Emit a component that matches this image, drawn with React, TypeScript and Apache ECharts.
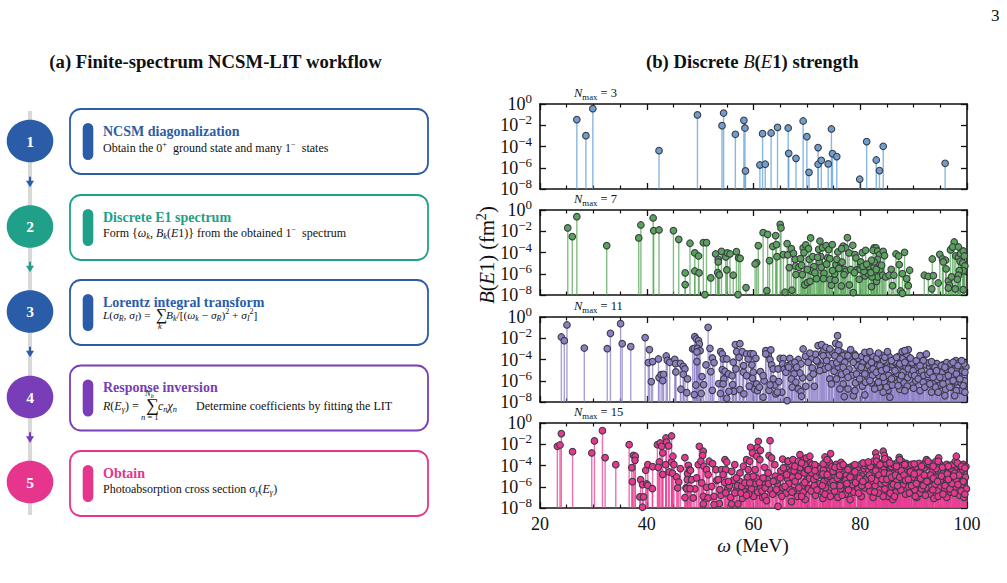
import React, { useEffect, useRef } from "react";
import * as echarts from "echarts";

// Each point is [omega in MeV, log10 of B(E1) in fm^2].
// The dense regions cannot be resolved point by point, so those lists are approximate.
const nmax3 = [
  [26.9,-1.47],[28.6,-2.98],[29.9,-0.44],[42.3,-4.39],[49.5,-1.03],[54.1,-2.04],[54.4,-0.85],[56.6,-2.85],
  [58.2,-1.54],[58.4,-2.26],[58.5,-6.3],[61.2,-5.74],[62.2,-5.67],[61.7,-2.79],[63.3,-2.73],[64.5,-2.2],
  [66.5,-2.26],[66.6,-4.64],[67.96,-5.11],[69.3,-1.6],[70,-3.07],[70.4,-6.43],[72.1,-4.1],[72.1,-5.67],
  [72.7,-5.3],[74,-5.64],[74.6,-2.35],[74.8,-4.67],[75.6,-4.95],[79.9,-7.08],[81.2,-3.54],[83,-5.27],
  [83.6,-6.27],[84.3,-3.98],[95.9,-5.58],
];
const nmax7 = [
  [25.2,-1.69],[26.05,-2.5],[26.9,-0.63],[32.5,-3.35],[38.5,-2.63],[38.9,-1.41],[41.2,-0.75],[41.3,-1.94],
  [42.3,-1.88],[45,-1.94],[46,-2.76],[48.1,-3.13],[47.2,-5.92],[47.2,-7.02],[49,-4.04],[49,-5.74],[49.7,-4.33],
  [49.8,-5.92],[50.6,-3.07],[51.2,-3.07],[50.9,-7.96],[52,-6.39],[52.9,-4.14],[53.4,-4.64],[53.4,-4.89],
  [53.3,-5.89],[54,-3.89],[54.8,-4.42],[55.1,-4.04],[53.6,-6.11],[55,-5.64],[55.6,-4.14],[56.2,-6.14],
  [56.8,-3.92],[57.2,-4.51],[57.1,-7.96],[57.5,-4.55],[58.6,-7.3],[60.9,-3.35],[61.8,-2.13],[62.65,-2.29],
  [60.6,-4.95],[60.3,-5.08],[63,-4.76],[62.5,-7.59],[63.6,-3.42],[64.3,-3.26],[64.15,-2.41],[65,-1.35],
  [65.15,-1.69],[64.4,-4.39],[65.6,-4.2],[66.4,-4.23],[66.3,-3.17],[67.1,-3.64],[67.5,-4.08],[65.9,-7.74],
  [67.2,-7.55],[66.7,-5.42],[67.8,-4.64],[68.8,-4.58],[67.9,-5.27],[68.5,-5.39],[67.95,-6.08],[69.15,-6.08],
  [69.3,-3.57],[69.8,-3.29],[70.3,-3.64],[69.45,-4.01],[70.7,-2.63],[70.45,-4.64],[71.1,-4.39],[71.3,-5.33],
  [70.8,-5.74],[69.6,-7.05],[70.1,-6.83],[70.6,-6.71],[71.8,-6.46],[72.3,-4.89],[72.45,-2.92],[72.2,-3.7],
  [72.95,-3.54],[73.6,-3.35],[74.1,-3.73],[74.76,-3.26],[72.6,-4.39],[72,-4.45],[73.2,-5.96],[73.1,-6.46],
  [73.9,-4.51],[74.3,-4.58],[74.6,-7.08],[74.3,-6.52],[75.3,-6.61],[75.2,-6.02],[75.45,-5.14],[76.3,-4.95],
  [75.6,-4.64],[75.8,-3.95],[76.8,-3.39],[77.25,-3.57],[76.5,-3.64],[77.6,-2.6],[78.6,-3.32],[77.9,-4.04],
  [79,-4.2],[79.2,-4.51],[77,-5.58],[77.3,-5.77],[76.95,-6.08],[76.45,-7.15],[77.95,-7.05],[78.7,-7.77],
  [79.8,-6.52],[79.3,-5.64],[79.95,-5.58],[80.1,-5.14],[80.4,-4.01],[81,-3.79],[80.1,-4.89],[80.9,-6.2],
  [81.5,-6.02],[82.1,-7.21],[80.7,-5.77],[81.6,-5.33],[82.6,-5.33],[82.6,-3.57],[82.95,-3.57],[82.4,-3.79],
  [83.25,-3.86],[83.6,-4.2],[83.25,-4.64],[82.6,-4.89],[82.1,-4.73],[83.7,-5.64],[83.05,-6.71],[83.25,-6.3],
  [82.2,-6.3],[84.3,-3.89],[84.55,-4.29],[84.2,-6.14],[84.8,-6.3],[85.8,-5.58],[85.4,-6.14],[86.3,-6.14],
  [86.7,-4.14],[87.2,-4.33],[88.3,-3.98],[87.3,-5.14],[87.9,-5.99],[88.7,-6.46],[89.25,-5.67],[86.05,-7.12],
  [89,-7.12],[87.55,-7.62],[87.9,-7.84],[92,-6.14],[92.75,-6.24],[93.7,-6.18],[93.5,-4.61],[93.4,-7.43],
  [94.6,-6.87],[94.9,-4.17],[95.4,-4.61],[96,-4.73],[95.55,-4.89],[96.1,-5.55],[96.5,-6.68],[96.7,-7.08],
  [97.1,-6.3],[96.5,-7.34],[97.8,-7.43],[96.9,-3.76],[97.6,-3.01],[97.3,-3.48],[98.4,-3.48],[97.9,-4.33],
  [98.4,-4.45],[98.8,-4.11],[99.3,-3.86],[99.5,-4.33],[98.7,-4.83],[99.2,-4.98],[99.6,-5.27],[99.3,-5.7],
  [98.55,-5.7],[98.4,-6.14],[98.2,-6.52],[99.3,-7.49],
  [71.5,-5.9],[72.7,-5.4],[73.7,-5.1],[74.8,-5.7],[76,-5.5],[76.6,-4.9],[78.2,-5.6],[78.9,-5.9],[80.5,-5.3],[81.2,-5.1],
  [82,-5.9],[83,-5.6],[84,-5.2],[69,-5.2],[70.1,-5.6],
];
const nmax11 = [
  [24,-1.88],[24.55,-2.23],[25.05,-0.75],[28.3,-2.92],[32.6,-2.98],[33.2,-1.54],[35.1,-0.63],[35.4,-2.51],
  [37,-2.79],[39.7,-1.94],[40.5,-3.07],[40.3,-4.29],[41.1,-4.2],[40.85,-6.08],[42.2,-3.95],[42.3,-5.7],
  [42.7,-5.42],[43.15,-5.39],[43,-5.99],[43.65,-3.67],[43.85,-4.08],[44.3,-4.26],[45.25,-3.98],[45.4,-4.39],
  [45.45,-5.17],[46.3,-4.36],[46.85,-4.64],[47.15,-4.89],[46.85,-5.39],[47.65,-5.83],[47.5,-7.12],
  [48.6,-3.01],[49,-1.85],[49.3,-2.07],[49.7,-2.23],[49.85,-2.54],[48.9,-2.95],[49.5,-2.95],[50,-3.17],
  [49.4,-3.29],[49.4,-4.2],[50.35,-5.61],[50.65,-6.36],[51.1,-4.51],[51.5,-0.97],[51.84,-2.95],[52,-5.14],
  [52.3,-3.86],[52.6,-4.29],[53.5,-6.27],[53.85,-3.26],[54.15,-3.48],[54.35,-3.95],[55,-3.95],[54.15,-4.95],
  [54.65,-5.11],[54.45,-5.83],[54.3,-6.3],[55.3,-5.36],[55.4,-6.99],[55,-7.65],[56.1,-6.36],[56.2,-4.26],
  [56,-5.52],[56.7,-4.89],[56.6,-2.6],[57.45,-2.51],[56.85,-3.26],[57.3,-3.79],[57.9,-3.26],[57.45,-6.83],
  [58.2,-7.24],[58.15,-4.58],[58.1,-5.2],[58.7,-3.48],[59,-3.95],[58.7,-5.52],[59.45,-3.45],[59.95,-3.48],
  [60.45,-3.89],[59.7,-4.51],[59.95,-5.2],[59.8,-5.77],[60.6,-6.3],[60.75,-6.93],[61.8,-7.55],[61.1,-6.61],
  [61.3,-5.14],[61.8,-5.52],[62.3,-3.17],[62.75,-3.57],[63.25,-3.1],[62.3,-3.48],[63.1,-4.01],[63.4,-4.51],
  [63.7,-4.89],[63.1,-6.39],[64.2,-7.24],[63.7,-5.83],[64.6,-4.89],[65,-3.89],[65.6,-3.89],[65.45,-4.42],
  [65.75,-4.89],[64.75,-6.08],[65.3,-7.08],[64.45,-7.08],[66.3,-7.87],[66.4,-4.58],[66.07,-5.2],
  [69.3,-3.01],[69.75,-3.7],[70.56,-3.39],[70.25,-4.26],[67.1,-4.42],[67.75,-4.26],[66.6,-4.73],[68.1,-4.73],
  [68.7,-5.27],[67.6,-5.36],[67.1,-5.83],[67.94,-6.14],[67.25,-6.61],[68.4,-6.77],[68.9,-7.02],[69,-7.46],
  [69.8,-6.52],[71.4,-6.52],[70.56,-5.67],[71.2,-5.36],[71.8,-4.11],[72.1,-2.7],[72.75,-2.6],[73.56,-2.85],
  [74.3,-3.01],[72.4,-5.05],[73.05,-3.64],[73.7,-4.11],[74,-4.73],[74.3,-5.83],[75.56,-5.83],[74.6,-6.3],
  [75.4,-2.48],[75.75,-1.76],[76,-2.63],[75.87,-3.17],[75.25,-3.64],[76.8,-3.64],[76.2,-3.95],[77.1,-4.26],
  [77.7,-3.64],[78.2,-3.07],[79.1,-3.64],[78.7,-4.26],[76.8,-4.73],[77.4,-5.2],[77.7,-5.67],[76.8,-6.3],
  [76.2,-6.77],[77.7,-6.77],[77,-7.49],[78.7,-7.4],[79.3,-5.36],[79.9,-5.83],[79,-6.93],[80.86,-3.32],
  [81.8,-3.26],[81.2,-3.95],[82.1,-4.26],[80.2,-4.73],[80.86,-5.36],[81,-6.14],[80.86,-7.33],[82.4,-4.89],
  [81.8,-5.99],[82.7,-6.77],[83.4,-3.39],[84.6,-3.79],[85.1,-3.26],[83.7,-4.58],[83,-5.2],[84,-5.05],
  [84.9,-4.89],[84.3,-5.67],[83.4,-6.14],[84.9,-6.61],[84.3,-7.08],[85.55,-7.55],[85.85,-4.11],[86.8,-3.79],
  [87.85,-3.26],[89,-3.07],[88.35,-3.17],[89.4,-3.86],[87.4,-4.42],[88.35,-4.26],[86.5,-5.05],[87.75,-5.52],
  [89,-4.89],[85.85,-5.83],[87.1,-6.46],[88.35,-6.93],[89.9,-5.05],[90.5,-4.11],[91.2,-3.64],[92.4,-3.48],
  [91.8,-4.11],[91.2,-4.58],[90.2,-5.52],[90.85,-5.83],[91.8,-6.14],[91.2,-6.93],[92.1,-6.61],[93.35,-4.2],
  [94,-4.73],[93.05,-5.2],[93.65,-5.67],[93.05,-6.3],[93.35,-7.08],[95.2,-4.58],[94.3,-5.05],[94.9,-5.67],
  [95.85,-4.73],[95.5,-6.3],[94.6,-7.08],[95.85,-7.4],[97.4,-4.26],[98.3,-4.58],[99,-4.11],[97.1,-5.05],
  [98,-5.36],[96.5,-5.52],[97.4,-5.99],[98.65,-5.83],[99.6,-5.2],[96.8,-6.61],[98,-6.93],[99.3,-6.46],
  [99.6,-7.08],[97.7,-7.4],
];
const nmax11Dense = [
  [72.6,-4.6],[73.3,-4.9],[74.7,-4.4],[75.1,-5.1],[75.9,-4.7],[76.5,-5.4],[77.9,-4.9],[78.4,-5.5],[79.5,-4.6],
  [79.9,-5],[80.5,-4.2],[80.9,-4.8],[81.4,-5.6],[81.6,-4.6],[82,-5],[82.3,-5.5],[82.8,-4.1],[83.2,-4.6],[83.5,-5.5],
  [83.9,-4.2],[84.2,-4.8],[84.5,-6.1],[84.7,-5.2],[85,-4.3],[85.3,-5.5],[85.5,-4.7],[85.7,-6.3],[86.1,-4.5],
  [86.3,-5.7],[86.6,-4.3],[86.9,-5.3],[87.1,-4.9],[87.5,-5.9],[87.8,-4.6],[88,-5.2],[88.2,-6.2],[88.6,-4.7],
  [88.9,-5.7],[89.2,-4.5],[89.6,-5.4],[89.8,-6.4],[90.1,-4.7],[90.4,-6],[90.7,-4.8],[91,-5.3],[91.5,-5.1],
  [91.9,-5.5],[92.3,-4.5],[92.7,-5.4],[93,-4.7],[93.5,-5.1],[93.8,-6.1],[94.2,-4.4],[94.5,-5.9],[94.8,-4.8],
  [95,-6.4],[95.4,-5.2],[95.7,-5.7],[96.1,-4.9],[96.4,-6.2],[96.9,-4.6],[97.2,-5.6],[97.6,-4.8],[97.9,-6.1],
  [98.1,-4.9],[98.5,-5.4],[98.9,-6.2],[99.2,-5.1],[99.5,-6],[99.8,-4.7],[60.2,-6.8],[62,-6],[62.9,-6.9],[64,-6.4],
  [66.8,-3.9],[67.3,-4.9],[68.4,-4.0],[68.9,-4.4],[69.2,-5.7],[70.9,-3.9],[71,-4.8],[71.6,-3.5],[72,-4.2],[72.9,-3.4],
  [73.2,-3.1],[74.1,-3.6],[74.8,-3.3],[75.6,-4.3],[76.4,-3.3],[76.9,-4.1],[77.3,-3.5],[78,-3.9],[78.9,-3.5],[79.6,-3.9],
  [80.3,-3.7],[81.1,-3.5],[82.4,-3.7],[83.1,-3.9],[84,-3.6],[84.4,-4.1],[85.4,-3.7],[86.4,-4.2],[87.2,-3.7],[88,-3.9],
  [88.7,-3.5],[89.7,-4.3],[90.9,-4.3],[91.6,-3.7],[92.9,-4.3],[93.6,-4.5],[94.4,-4.4],[95.5,-4.5],[96.2,-4.3],[97,-4.4],
  [97.9,-4.1],[98.6,-4.3],[99.4,-4.4],[79.1,-6.2],[80.4,-6.5],[82.1,-6.2],[83.6,-6.6],[85.2,-6.9],[86,-6.4],[87.4,-6.8],
  [88.8,-6.5],[90,-6.7],[92.6,-6.2],[94.1,-6.6],[96,-6.8],[97.1,-6.6],[98.9,-6.9],[59.2,-6.5],
  [56.3,-7],[53.8,-7.2],[52.3,-6.9],[50.2,-7.2],[49.2,-6.4],[48.9,-7.3],[46.4,-6.8],
];
const nmax15 = [
  [23.25,-2.19],[23.75,-2.07],[24,-1],[26.1,-2.7],[29.7,-2.82],[30.2,-1.69],[31.7,-0.72],[32.2,-3.26],[34.2,-3.92],
  [36.7,-2.04],[37.5,-3.04],[37.85,-3.13],[37.8,-3.51],[37.2,-4.2],[37.3,-5.52],[38.85,-5.33],[39.2,-5.8],[38.7,-6.96],
  [39.4,-6.96],[39.2,-7.93],[39.8,-4.45],[40.2,-3.92],[40,-5.74],[40.2,-5.86],[41.1,-4.11],[41.05,-6.18],[42,-2.04],
  [42.35,-3.67],[42.5,-1.88],[42.8,-2.19],[42.15,-4.17],[43,-2.82],[43,-4.83],[43.6,-1.41],[43.7,-1.79],[43.55,-3.92],
  [44.1,-2.16],[44.2,-4.61],[44.65,-1.22],[44.65,-3.67],[44.9,-3.13],[45.1,-3.92],[44.85,-4.73],[45.6,-5.08],[46,-5.55],
  [45.8,-6.11],[46.3,-4.29],[47.15,-3.26],[47.8,-3.98],[47.65,-4.76],[47.35,-6.11],[47.15,-7.02],[47.6,-5.33],[48,-4.39],
  [48.2,-4.45],[48.4,-5.33],[49,-6.2],[48.7,-7.05],[47.5,-6.18],[48.1,-6.18],[49.35,-5.17],[49.65,-3.92],[49.85,-2.19],
  [50.6,-2.66],[50.47,-3.04],[50.15,-3.6],[50.7,-4.07],[51.2,-4.39],[51.7,-3.6],[52.34,-3.82],[52.96,-4.39],[51.5,-4.86],
  [50.3,-5.64],[51.2,-6.05],[52.15,-5.96],[50.6,-6.9],[51.5,-7.05],[52.6,-6.9],[50.6,-7.62],[53.6,-7.59],[52.6,-7.68],
  [54.65,-3.45],[55,-3.67],[54,-4.39],[54.8,-4.39],[53.4,-5.33],[54.3,-4.86],[55.3,-5.49],[56.5,-3.92],[55.9,-4.55],
  [53.7,-6.27],[54.8,-6.58],[56.5,-6.58],[55.9,-7.62],[57.1,-7.62],[57.45,-4.7],[56.8,-5.17],[57.8,-5.96],[58.7,-6.8],
  [58.1,-4.07],[58.7,-3.45],[59.45,-2.29],[59.8,-2.82],[60.7,-2.29],[60.9,-1.72],[61.3,-2.57],[60.6,-3.13],[59.3,-3.6],
  [60.3,-4.39],[59,-4.39],[59.95,-5.02],[58.4,-5.64],[59.3,-5.64],[61.8,-5.17],[61.2,-3.45],[62.1,-4.17],[62.1,-6.9],
  [62.45,-7.3],[63.1,-1.66],[62.9,-3.07],[63.4,-3.29],[64,-3.92],[62.76,-4.7],[63.7,-5.49],[64.3,-6.27],[65.3,-6.9],
  [64.6,-7.84],[65.45,-3.39],[66.4,-3.6],[65.6,-4.23],[66.2,-4.86],[65,-5.17],[65.9,-5.96],
  [66.5,-3.6],[67.4,-3.45],[68.7,-2.98],[68.4,-3.6],[69.9,-3.29],[70.56,-3.13],[69.6,-3.92],[69,-3.76],[67.75,-4.07],
  [70.25,-4.39],[71.5,-3.92],[71.5,-4.48],[73.06,-3.85],[73.4,-3.2],[73.8,-3.45],[74.45,-2.88],[73.8,-4.86],[74.9,-4.55],
  [75.25,-4.17],[76.2,-4.07],[76.8,-3.92],[77.7,-4.39],[79,-3.92],[80.55,-3.76],[81.5,-3.67],[82.9,-2.82],[83.05,-3.23],
  [83.05,-3.6],[84.3,-2.66],[84.5,-3.04],[84.6,-3.35],[83.7,-3.92],[85.55,-3.76],[87.3,-3.23],[87.4,-3.45],[86.8,-4.07],
  [88.35,-3.92],[90.1,-3.85],[92.4,-3.45],[92.7,-3.6],[91.5,-4.07],[94.7,-3.29],[94.6,-3.6],[93.65,-4.07],[95.4,-4.17],
  [96.5,-4.07],[98,-3.13],[98.2,-3.76],[99,-4.07],[99.6,-4.23],
];
const nmax15Dense = [
  [53.1,-5.4],[53.9,-6.8],[54.6,-5.6],[55.2,-6.2],[55.7,-7],[56.2,-5.4],[56.9,-6.2],[57.4,-5.5],[57.9,-7.1],[58.2,-6.3],
  [58.9,-5.1],[59.6,-6.2],[60,-6.9],[60.4,-5.7],[60.8,-6.5],[61.4,-6.1],[61.7,-7],[62,-5.6],
  [62.6,-5.3],[63,-6.2],[63.6,-6.7],[64.1,-5],[64.5,-5.7],[64.8,-6.5],[65.1,-4.5],[65.5,-6.1],[66.1,-6.6],
  [66.4,-5.3],[66.7,-6.2],[66.9,-4.4],[67.1,-7.4],[67.3,-5.1],[67.5,-6.4],[67.8,-5.5],[68,-4.6],[68.2,-6.9],[68.4,-5],
  [68.9,-4.5],[69.1,-5.9],[69.3,-6.5],[69.5,-4.7],[69.7,-7.2],[69.9,-5.4],[70.1,-4.4],[70.3,-6.2],[70.5,-5.2],
  [70.9,-4.7],[71.1,-6.1],[71.3,-5.3],[71.6,-6.8],[71.8,-5],[72.2,-4.6],[72.4,-5.7],[72.6,-6.4],
  [72.8,-4.9],[73,-7.1],[73.2,-5.5],[73.5,-6.1],[73.9,-5.2],[74.1,-6.6],[74.3,-4.3],[74.5,-5.6],
  [75,-5],[75.2,-6.4],[75.4,-5.7],[75.6,-4.6],[75.8,-7],[76,-5.3],[76.3,-6.2],[76.5,-4.8],[77,-5.5],
  [77.2,-6.7],[77.4,-4.9],[77.6,-6],[77.9,-5.2],[78.1,-7.2],[78.3,-4.6],[78.5,-5.8],[78.7,-6.5],[78.9,-4.9],
  [79.4,-5.3],[79.6,-6.2],[79.8,-4.4],[80,-5.6],[80.2,-6.9],[80.4,-5],[80.7,-4.3],[80.9,-6.1],[81.3,-5.1],
  [81.6,-4.5],[81.8,-6.4],[82,-5.5],[82.2,-3.9],[82.4,-7],[82.6,-4.8],[82.8,-5.9],[83.2,-4.3],[83.4,-6.6],[83.6,-5.2],
  [83.8,-4.6],[84.2,-5.7],[84.4,-4.2],[84.6,-6.2],[84.8,-5],[85,-3.9],[85.2,-6.9],[85.4,-5.4],[85.7,-4.4],
  [85.9,-6],[86.1,-7.2],[86.3,-4.7],[86.5,-5.6],[86.7,-6.5],[86.9,-4.4],[87.1,-5.2],[87.3,-6.1],[87.5,-4],
  [87.9,-4.9],[88.1,-5.8],[88.3,-4.4],[88.5,-6.7],[88.7,-5.1],[88.9,-4.1],[89.1,-6],[89.5,-4.8],[89.7,-5.5],
  [89.9,-4.4],[90.2,-6.3],[90.4,-5],[90.6,-7],[90.8,-4.3],[91,-5.7],[91.2,-6.6],[91.4,-4.8],[91.7,-5.3],
  [92.1,-4.2],[92.3,-6.1],[92.6,-5],[92.9,-4],[93.1,-6.7],[93.3,-5.4],[93.5,-4.6],[93.8,-7.1],[94,-5.8],[94.2,-4.3],
  [94.4,-6.4],[94.9,-4.9],[95.3,-5.6],[95.6,-4.5],[95.8,-6.2],[96,-5.1],[96.2,-7],[96.4,-4.6],[96.7,-5.7],
  [96.9,-6.5],[97.1,-4.3],[97.3,-5.3],[97.7,-4.7],[97.9,-6],[98.1,-4.1],[98.4,-5.5],[98.6,-6.8],[98.8,-4.6],
  [99,-5.8],[99.2,-4.4],[99.4,-7],[99.7,-5.1],[99.9,-6.2],
  [66.3,-4.1],[67,-3.9],[67.6,-4.5],[68.1,-3.7],[68.8,-4.2],[69.2,-3.4],[69.8,-4.1],[70.4,-3.6],[71,-3.9],[71.3,-4.2],
  [72,-4.1],[72.5,-4.3],[73.1,-4.4],[73.6,-3.9],[74.2,-3.7],[74.7,-4.1],[75.5,-3.9],[76,-4.4],[76.4,-3.7],[77.1,-4.1],
  [77.9,-4.2],[78.4,-4.1],[78.8,-4],[79.5,-4.2],[80.1,-3.9],[80.8,-4],[81.2,-3.8],[81.9,-4.1],[82.5,-3.6],[83.4,-3.7],
  [84,-3.8],[84.9,-3.8],[85.3,-3.5],[85.8,-4.1],[86.2,-3.9],[87,-3.7],[87.8,-3.6],[88.6,-3.8],[89.2,-4],[89.6,-3.9],
  [90.5,-4.1],[91,-3.8],[91.9,-3.9],[92.2,-3.7],[93,-3.9],[93.4,-3.8],[94.2,-3.6],[95,-3.9],[95.8,-4.1],[96.2,-3.9],
  [96.9,-4],[97.4,-3.9],[97.8,-3.6],[98.6,-4],[99.3,-3.9],[99.8,-4.1],
  [66.6,-5.7],[67.2,-6.5],[68.5,-6.1],[69,-6.9],[69.6,-5.6],[70.8,-6.4],[71.4,-5.9],[71.9,-6.3],
  [72.9,-5.9],[73.4,-6.7],[73.8,-4.9],[74.4,-6.9],[74.9,-5.5],[75.7,-5.2],[76.2,-5.9],[76.6,-6.8],[77.3,-5.4],
  [77.8,-6.3],[78.2,-5.3],[79.1,-5.6],[79.7,-6.6],[80.3,-5.9],[81,-5.3],[81.5,-5.9],
  [82.3,-4.7],[82.7,-6.5],[83,-5.4],[83.9,-5.7],[84.3,-6.9],[84.7,-5.6],[85.1,-4.9],[85.6,-6.6],[86,-5.2],
  [86.4,-6.9],[86.8,-5.5],[87.2,-4.6],[87.6,-6.3],[88,-5.3],[88.8,-4.9],[89.2,-6.6],[89.6,-5.9],[90,-5.1],
  [90.3,-6.9],[90.7,-5.5],[91.1,-4.7],[91.5,-6.2],[91.8,-5.9],[92.2,-6.8],[92.7,-5.5],[93.2,-4.9],[93.6,-6.3],[94.1,-5.1],
  [94.6,-6.9],[95,-5.4],[95.5,-6.7],[95.9,-5.9],[96.3,-4.8],[96.8,-6.2],[97.2,-5.7],[97.6,-6.6],[98,-5.3],[98.5,-4.9],
  [98.9,-6.4],[99.3,-5.5],[99.6,-6.7],[55.5,-5.9],[57,-5.9],[57.6,-6.6],[58.6,-5.9],
  [59.1,-6.7],[60.6,-5.2],[61.1,-5.6],[61.6,-6.4],[62.2,-6.1],[62.8,-5.7],[64.3,-5.4],
  [78.1,-5.1],[79,-4.6],[79.9,-5.2],[80.5,-5.5],[81.7,-4.9],[82.1,-5.2],[82.9,-4.5],[83.5,-4.9],[84.1,-5.3],[84.5,-4.7],
  [85,-5.3],[85.5,-4.8],[85.9,-5.1],[86.2,-5.8],[86.6,-4.9],[87,-5.9],[87.4,-5.1],[87.7,-4.5],[88.2,-4.9],[88.5,-5.4],
  [89,-5.3],[89.4,-4.6],[90.1,-4.8],[90.5,-5.7],[91.3,-5.2],[92,-4.9],[92.5,-5.5],[73,-4.8],[74.1,-5],[75,-5.9],[76.1,-4.9],
  [77.5,-5.7],[93.7,-5.2],[94.5,-5.5],[95.2,-5],[96.5,-5.3],[97.5,-5],[98.3,-5.8],
];

const panelLabels = ["3", "7", "11", "15"];
const panelTops = [104, 210, 317, 423];
const panelValues = [nmax3, nmax7, [...nmax11Dense, ...nmax11], [...nmax15Dense, ...nmax15]];
const stemColors = ["#5b9bd5", "#55a555", "#8a7cc6", "#e8368f"];
const markerColors = ["#6f9fd0", "#5aa35a", "#8d7fc2", "#e6388f"];
const xTicksLabelled = [20, 40, 60, 80, 100];

const stepTitles = ["NCSM diagonalization", "Discrete E1 spectrum", "Lorentz integral transform", "Response inversion", "Obtain"];
const stepNumbers = ["1", "2", "3", "4", "5"];
const stepColors = ["#2b5ca8", "#20a088", "#2b5ca8", "#7a3db8", "#e5358c"];
const cardTops = [109, 195, 280, 365.5, 451];
const circleCentres = [141, 226.5, 311.5, 397, 482];
const arrowTops = [176.7, 261.7, 346.7, 432.3];

const serif = '"Liberation Serif", "Times New Roman", serif';
const richFor = (fs: number) => ({
  n: { fontFamily: serif, fontSize: fs, lineHeight: fs * 1.3, fill: "#111" },
  i: { fontFamily: serif, fontSize: fs, lineHeight: fs * 1.3, fontStyle: "italic", fill: "#111" },
  s: { fontFamily: serif, fontSize: fs * 0.7, lineHeight: fs, verticalAlign: "bottom", fontStyle: "italic", fill: "#111" },
  r: { fontFamily: serif, fontSize: fs * 0.7, lineHeight: fs, verticalAlign: "bottom", fill: "#111" },
  u: { fontFamily: serif, fontSize: fs * 0.7, lineHeight: fs, verticalAlign: "top", fill: "#111" },
});
const rtext = (x: number, y: number, text: string, fs: number, extra: any = {}) => ({
  type: "text", x, y, z: 50, silent: true, ...extra,
  style: { text, rich: richFor(fs), font: `${fs}px ${serif}`, fontSize: fs, fontFamily: serif, fill: "#111",
    verticalAlign: "middle", align: extra.align || "left" },
});

export default function App() {
  const ref = useRef<HTMLDivElement>(null);
  useEffect(() => {
    const chart = echarts.init(ref.current!, null, { renderer: "svg" });
    const grid: any[] = [], xAxis: any[] = [], yAxis: any[] = [], series: any[] = [];
    const black = { lineStyle: { color: "#111", width: 1.6 } };
    panelTops.forEach((top, i) => {
      grid.push({ left: 540, top, width: 427, height: 85, containLabel: false });
      const isLast = i === panelTops.length - 1;
      const xBase = {
        type: "value", gridIndex: i, min: 20, max: 100, interval: 20, splitLine: { show: false },
        axisLine: { show: true, onZero: false, ...black },
        axisTick: { show: true, inside: true, length: 6, lineStyle: { color: "#111", width: 1.3 } },
        minorTick: { show: true, splitNumber: 4, length: 3.5, lineStyle: { color: "#111", width: 1.2 } },
        minorSplitLine: { show: false },
      };
      xAxis.push({
        ...xBase, position: "bottom",
        axisLabel: { show: isLast, margin: 7, fontFamily: serif, fontSize: 18, color: "#111",
          formatter: (v: number) => (xTicksLabelled.includes(v) ? String(v) : "") },
      });
      xAxis.push({ ...xBase, position: "top", axisLabel: { show: false } });
      const yBase = {
        type: "log", logBase: 10, gridIndex: i, min: 1e-8, max: 1, interval: 2, splitLine: { show: false },
        axisLine: { show: true, onZero: false, ...black },
        axisTick: { show: true, inside: true, length: 6, lineStyle: { color: "#111", width: 1.3 } },
        minorTick: { show: false },
      };
      yAxis.push({
        ...yBase, position: "left",
        axisLabel: {
          show: true, margin: 8, hideOverlap: false, showMinLabel: true, showMaxLabel: true,
          formatter: (v: number) => {
            const e = Math.round(Math.log10(v));
            return `{b|10}{e|${e < 0 ? "\u2212" : ""}${Math.abs(e)}}`;
          },
          rich: {
            b: { fontFamily: serif, fontSize: 18, lineHeight: 24, color: "#111" },
            e: { fontFamily: serif, fontSize: 13, lineHeight: 18, verticalAlign: "top", color: "#111" },
          },
        },
      });
      yAxis.push({ ...yBase, position: "right", axisLabel: { show: false } });
      const pts = panelValues[i].map(([w, l]) => [w, Math.pow(10, l)]);
      series.push({
        type: "custom", xAxisIndex: 2 * i, yAxisIndex: 2 * i, silent: true, z: 2, data: pts, clip: true,
        renderItem: (_p: any, api: any) => {
          const a = api.coord([api.value(0), 1e-8]);
          const b = api.coord([api.value(0), api.value(1)]);
          return { type: "line", shape: { x1: a[0], y1: a[1], x2: b[0], y2: b[1] },
            style: { stroke: stemColors[i], lineWidth: 1.4, opacity: 0.72 } };
        },
      });
      series.push({
        type: "scatter", xAxisIndex: 2 * i, yAxisIndex: 2 * i, silent: true, z: 3, symbolSize: 6.6, clip: true,
        data: pts, itemStyle: { color: markerColors[i], borderColor: "#3b3b45", borderWidth: 1.1, opacity: 1 },
      });
    });

    const g: any[] = [];
    g.push({ type: "text", x: 991, y: 7, style: { text: "3", font: `17px ${serif}`, fill: "#111" } });
    g.push({ type: "text", x: 215.5, y: 61, style: { text: "(a) Finite-spectrum NCSM-LIT workflow",
      font: `bold 18.7px ${serif}`, fill: "#111", align: "center", verticalAlign: "middle" } });
    g.push({ type: "text", x: 646, y: 61, z: 50, style: {
      text: "{t|(b) Discrete }{o|B}{t|(}{o|E}{t|1) strength}",
      rich: {
        t: { fontFamily: serif, fontSize: 18.7, fontWeight: "bold", fill: "#111" },
        o: { fontFamily: serif, fontSize: 18.7, fontStyle: "italic", fill: "#111" },
      }, verticalAlign: "middle", font: `18.7px ${serif}` } });
    g.push({ type: "rect", z: 1, shape: { x: 28, y: 111, width: 4, height: 404 }, style: { fill: "#d9d9d9" } });

    stepTitles.forEach((title, i) => {
      const c = stepColors[i], t = cardTops[i], cy = circleCentres[i];
      g.push({ type: "ellipse", z: 2, shape: { cx: 30, cy, rx: 23.3, ry: 21.3 }, style: { fill: c } });
      g.push({ type: "text", z: 3, x: 30, y: cy, style: { text: stepNumbers[i], font: `bold 15.5px ${serif}`, fill: "#fff", align: "center", verticalAlign: "middle" } });
      g.push({ type: "rect", z: 2, shape: { x: 70, y: t, width: 358, height: 65, r: 11 }, style: { fill: "#fff", stroke: c, lineWidth: 1.8 } });
      g.push({ type: "rect", z: 3, shape: { x: 82.7, y: t + 14, width: 10.6, height: 37, r: 5.3 }, style: { fill: c } });
      g.push({ type: "text", z: 4, x: 103, y: t + 22, style: { text: title, font: `bold 14px ${serif}`, fill: c, verticalAlign: "middle" } });
      if (i < 4) {
        const a = arrowTops[i];
        g.push({ type: "rect", z: 2, shape: { x: 29, y: a, width: 2, height: 5 }, style: { fill: c } });
        g.push({ type: "polygon", z: 2, shape: { points: [[26, a + 4], [34, a + 4], [30, a + 10.6]] }, style: { fill: c } });
      }
    });

    const fs = 12;
    g.push(rtext(103, 148, "{n|Obtain the 0}{u|+}{n|  ground state and many 1}{u|\u2212}{n|  states}", fs));
    g.push(rtext(103, 233, "{n|Form {}{i|\u03c9}{s|k}{n|, }{i|B}{s|k}{n|(}{i|E}{n|1)}}{n| from the obtained 1}{u|\u2212}{n|  spectrum}", fs));
    g.push(rtext(103, 315, "{i|L}{n|(}{i|\u03c3}{s|R}{n|, }{i|\u03c3}{s|I}{n|) = }", 11.4));
    g.push(rtext(156, 314, "\u2211", 16));
    g.push(rtext(158, 326, "{i|k}", 8.5));
    g.push(rtext(166, 315, "{i|B}{s|k}{n|/[(}{i|\u03c9}{s|k}{n| \u2212 }{i|\u03c3}{s|R}{n|)}{u|2}{n| + }{i|\u03c3}{s|I}{u|2}{n|]}", 11.4));
    g.push(rtext(103, 405.5, "{i|R}{n|(}{i|E}{s|\u03b3}{n|) = }", fs));
    g.push(rtext(146, 405, "\u2211", 18));
    g.push(rtext(145, 393, "{i|N}{s|b}", 8.5));
    g.push(rtext(141, 417, "{i|n}{n| = 1}", 8.5));
    g.push(rtext(158, 405.5, "{i|c}{s|n}{i|\u03c7}{s|n}", fs));
    g.push(rtext(196, 405.5, "{n|Determine coefficients by fitting the LIT}", fs));
    g.push(rtext(103, 489, "{n|Photoabsorption cross section }{i|\u03c3}{s|\u03b3}{n|(}{i|E}{s|\u03b3}{n|)}", fs));

    panelLabels.forEach((l, i) => {
      g.push(rtext(574, panelTops[i] - 11, `{i|N}{r|max}{n| = ${l}}`, 12.5));
    });
    g.push(rtext(487, 255, "{i|B}{n|(}{i|E}{n|1) (fm}{u|2}{n|)}", 20.5, { rotation: Math.PI / 2, align: "center" }));
    g.push(rtext(753, 545, "{i|\u03c9}{n| (MeV)}", 19.5, { align: "center" }));

    chart.setOption({ animation: false, grid, xAxis, yAxis, series, graphic: g, tooltip: { show: false } });
    return () => chart.dispose();
  }, []);
  return <div ref={ref} style={{ width: 1007, height: 583, position: "absolute", left: 0, top: 0, background: "#fff" }} />;
}
